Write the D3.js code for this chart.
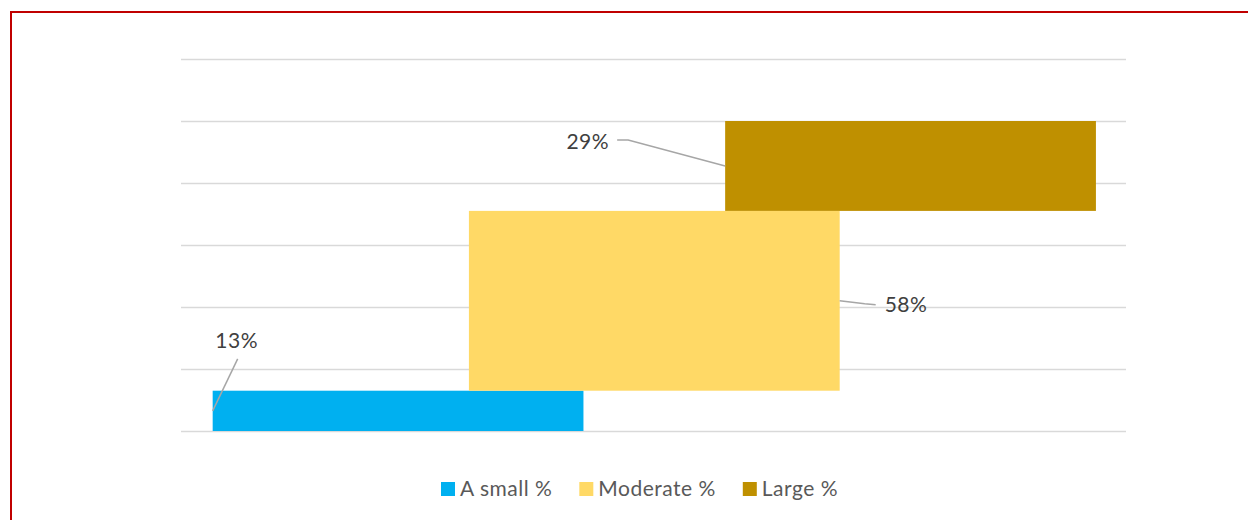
<!DOCTYPE html>
<html>
<head>
<meta charset="utf-8">
<script src="https://cdn.jsdelivr.net/npm/d3@7"></script>
<style>
  html, body { margin: 0; padding: 0; background: #fff; }
  svg { display: block; font-family: Lato, "Open Sans", sans-serif; }
</style>
</head>
<body>
<svg id="chart" width="1248" height="520"></svg>
<script>
// ---- data ----
const categories = ["A small %", "Moderate %", "Large %"];
const values = [0.13, 0.58, 0.29];
const valueLabels = ["13%", "58%", "29%"];
const colors = ["#00B0F0", "#FFD966", "#BF9000"];
const yTicks = [0, 0.2, 0.4, 0.6, 0.8, 1.0, 1.2];

// ---- layout ----
const svg = d3.select("#chart");
const W = 1248, H = 520;
const plot = { left: 181, right: 1126, top: 59, bottom: 431 };

// red frame
svg.append("rect")
  .attr("x", 11).attr("y", 12)
  .attr("width", W + 20).attr("height", H + 20)
  .attr("fill", "none").attr("stroke", "#C00000").attr("stroke-width", 2);

const x = d3.scalePoint().domain(categories).range([plot.left + 0.8, plot.right + 0.8]).padding(0.844);
const barW = x.step() * 1.447;
const y = d3.scaleLinear().domain([0, 1.2]).range([plot.bottom, plot.top]);

// gridlines via axis
const yAxis = d3.axisLeft(y).tickValues(yTicks).tickSize(-(plot.right - plot.left)).tickFormat("");
const gAxis = svg.append("g").attr("transform", `translate(${plot.left},0)`).call(yAxis);
gAxis.select(".domain").remove();
gAxis.selectAll(".tick line").attr("stroke", "#D9D9D9").attr("stroke-width", 1.5);

// waterfall bars
let cum = 0;
const bars = categories.map((c, i) => {
  const b = { cat: c, v: values[i], lab: valueLabels[i], color: colors[i], start: cum, end: cum + values[i] };
  cum += values[i];
  return b;
});

svg.append("g").selectAll("rect").data(bars).join("rect")
  .attr("x", d => x(d.cat) - barW / 2)
  .attr("y", d => y(d.end))
  .attr("width", barW)
  .attr("height", d => y(d.start) - y(d.end))
  .attr("fill", d => d.color);

// data labels with leader lines
const lbl = svg.append("g").attr("font-size", 21).attr("letter-spacing", 0.5).attr("fill", "#404040");
const leader = svg.append("g").attr("fill", "none").attr("stroke", "#A6A6A6").attr("stroke-width", 1.5);

bars.forEach((d, i) => {
  const x0 = x(d.cat) - barW / 2, x1 = x(d.cat) + barW / 2;
  const midY = (y(d.start) + y(d.end)) / 2;
  if (i === 0) {
    lbl.append("text").attr("x", x0 + 24).attr("y", midY - 63).attr("text-anchor", "middle").text(d.lab);
    leader.append("path").attr("d", `M${x0},${midY} L${x0 + 25},${midY - 52}`);
  } else if (i === 1) {
    lbl.append("text").attr("x", x1 + 45).attr("y", midY + 11).attr("text-anchor", "start").text(d.lab);
    leader.append("path").attr("d", `M${x1},${midY} L${x1 + 25},${midY + 3} L${x1 + 36},${midY + 4}`);
  } else {
    lbl.append("text").attr("x", x0 - 116).attr("y", midY - 17).attr("text-anchor", "end").text(d.lab);
    leader.append("path").attr("d", `M${x0 - 108},${midY - 26} L${x0 - 97},${midY - 26} L${x0},${midY}`);
  }
});

// legend
const legend = svg.append("g").attr("font-size", 21).attr("letter-spacing", 0.5).attr("fill", "#595959");
let lx = 441;
const ly = 482;
bars.forEach((d, i) => {
  const g = legend.append("g").attr("transform", `translate(${lx},${ly})`);
  g.append("rect").attr("width", 14).attr("height", 14).attr("fill", d.color);
  const t = g.append("text").attr("x", 19).attr("y", 14).text(d.cat);
  const w = t.node().getComputedTextLength();
  lx += 19 + w + 27;
});
</script>
</body>
</html>
